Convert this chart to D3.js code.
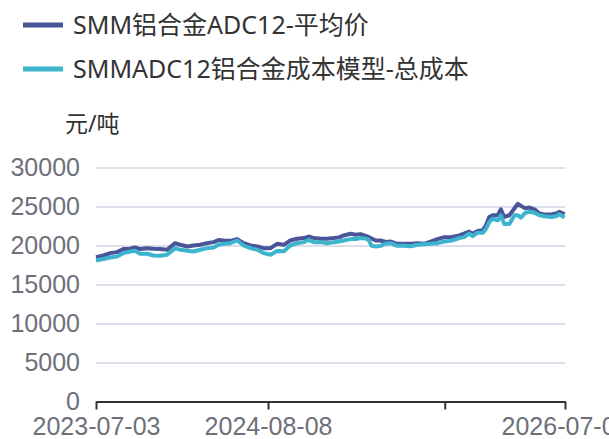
<!DOCTYPE html>
<meta charset="utf-8">
<style>
body { margin: 0; background: #fff; }
svg { display: block; font-family: "Noto Sans", "Noto Sans CJK SC", sans-serif; }
.grid line { stroke: #dcdfea; stroke-width: 2px; }
.grid text { fill: #6e7079; font-size: 25px; }
.xaxis text { fill: #6e7079; font-size: 25px; }
.xaxis line, .xaxis path { stroke: #333; stroke-width: 2px; }
.line { fill: none; stroke-width: 4px; stroke-linejoin: round; }
.legend text { fill: #333; font-size: 25px; }
</style>
<body>
<script src="https://d3js.org/d3.v7.min.js"></script>
<script>

// series names
var seriesNames = ["SMM铝合金ADC12-平均价", "SMMADC12铝合金成本模型-总成本"];
var unitLabel = "元/吨";

// dates
var dates = [
  "2023-07-03","2023-07-20","2023-08-05","2023-08-21","2023-09-05","2023-09-21","2023-10-02",
  "2023-10-14","2023-10-30","2023-11-14","2023-11-30","2023-12-16","2024-01-04","2024-01-16",
  "2024-02-01","2024-02-16","2024-03-03","2024-03-18","2024-04-03","2024-04-14","2024-04-26",
  "2024-05-12","2024-05-28","2024-06-12","2024-06-28","2024-07-14","2024-07-29","2024-08-14",
  "2024-08-29","2024-09-14","2024-09-29","2024-10-15","2024-10-31","2024-11-11","2024-11-23",
  "2024-12-09","2024-12-24","2025-01-09","2025-01-21","2025-02-01","2025-02-17","2025-03-01",
  "2025-03-12","2025-03-24","2025-03-31","2025-04-07","2025-04-17","2025-04-28","2025-05-10",
  "2025-05-22","2025-06-06","2025-06-22","2025-07-08","2025-07-23","2025-08-08","2025-08-23",
  "2025-09-08","2025-09-24","2025-10-09","2025-10-29","2025-11-09","2025-11-21","2025-11-29",
  "2025-12-11","2025-12-23","2025-12-30","2026-01-07","2026-01-15","2026-01-27","2026-02-03",
  "2026-02-11","2026-02-23","2026-03-07","2026-03-15","2026-03-22","2026-04-01","2026-04-11",
  "2026-04-23","2026-05-04","2026-05-16","2026-06-01","2026-06-12","2026-06-20","2026-07-02"
];

// SMM ADC12 average price
var avgPrice = [
  18510,18720,19020,19150,19540,19580,19750,
  19540,19660,19580,19540,19450,20300,20090,
  19870,20000,20090,20300,20430,20700,20640,
  20600,20820,20300,20000,19870,19660,19660,
  20220,20090,20640,20860,20950,21150,20950,
  20860,20860,20950,21040,21290,21500,21370,
  21460,21240,21100,20900,20640,20640,20450,
  20510,20220,20220,20220,20300,20220,20510,
  20820,21070,21070,21300,21520,21780,21520,
  21870,21960,22540,23660,23880,23880,24640,
  23660,23880,24770,25350,25080,24770,24860,
  24640,24100,23970,23970,24100,24330,24010
];

// cost model total cost
var totalCost = [
  18080,18260,18460,18590,19020,19230,19320,
  18940,18940,18720,18680,18810,19660,19450,
  19320,19230,19450,19660,19750,20090,20220,
  20300,20640,20000,19660,19450,19020,18810,
  19300,19250,20000,20300,20430,20730,20430,
  20430,20300,20430,20510,20640,20820,20820,
  20950,20900,20730,19960,19870,19950,20250,
  20300,19960,19960,19900,20090,20150,20220,
  20300,20510,20600,20950,21070,21520,21200,
  21650,21650,22100,22990,23430,23210,23880,
  22770,22770,23880,23880,23570,24190,24330,
  24190,23880,23750,23660,23750,24010,23570
];

var yTicks = [0, 5000, 10000, 15000, 20000, 25000, 30000];
var xTickLabels = ["2023-07-03", "2024-08-08", "2025-09-25", "2026-07-03"];
var colors = ["#4a5499", "#3cb4cd"];

var margin = {top: 167.5, right: 44, bottom: 37.5, left: 96},
    width = 609 - margin.left - margin.right,
    height = 439 - margin.top - margin.bottom;

var parseTime = d3.timeParse("%Y-%m-%d");
var xTicks = xTickLabels.map(parseTime);

var x = d3.scaleTime()
    .domain([xTicks[0], xTicks[xTicks.length - 1]])
    .range([0, width]);
var y = d3.scaleLinear().domain([0, 30000]).range([height, 0]);

var svgRoot = d3.select("body").append("svg")
    .attr("width", 609)
    .attr("height", 439);

var svg = svgRoot.append("g")
    .attr("transform", "translate(" + margin.left + "," + margin.top + ")");

// grid + y labels
var gy = svg.append("g")
    .attr("class", "grid")
    .call(d3.axisLeft(y).tickValues(yTicks).tickSize(-width).tickPadding(16)
      .tickFormat(d3.format("d")));
gy.select(".domain").remove();
gy.selectAll("text").attr("dy", "0.3em");

// x axis
var gx = svg.append("g")
    .attr("class", "xaxis")
    .attr("transform", "translate(0," + height + ")")
    .call(d3.axisBottom(x)
      .tickValues(xTicks)
      .tickSize(8)
      .tickSizeOuter(0)
      .tickPadding(8)
      .tickFormat(function(d, i) { return i === 2 ? "" : d3.timeFormat("%Y-%m-%d")(d); }));

// lines
var rows = dates.map(function(d, i) {
  return {date: parseTime(d), a: avgPrice[i], c: totalCost[i]};
});

var lineA = d3.line()
    .x(function(d) { return x(d.date); })
    .y(function(d) { return y(d.a); });
var lineC = d3.line()
    .x(function(d) { return x(d.date); })
    .y(function(d) { return y(d.c); });

svg.append("path").datum(rows)
    .attr("class", "line")
    .attr("stroke", colors[0])
    .attr("d", lineA);
svg.append("path").datum(rows)
    .attr("class", "line")
    .attr("stroke", colors[1])
    .attr("d", lineC);

// legend
var legend = svgRoot.append("g").attr("class", "legend");
seriesNames.forEach(function(name, i) {
  var ly = 25 + i * 44;
  legend.append("rect")
    .attr("x", 23).attr("y", ly - 2.5)
    .attr("width", 40).attr("height", 5)
    .attr("fill", colors[i]);
  legend.append("text")
    .attr("x", 73).attr("y", ly)
    .attr("dy", "0.35em")
    .text(name);
});

// unit label
svgRoot.append("text")
    .attr("x", 65).attr("y", 124)
    .attr("dy", "0.35em")
    .style("font-size", "23px")
    .style("fill", "#333")
    .text(unitLabel);

</script>
</body>
